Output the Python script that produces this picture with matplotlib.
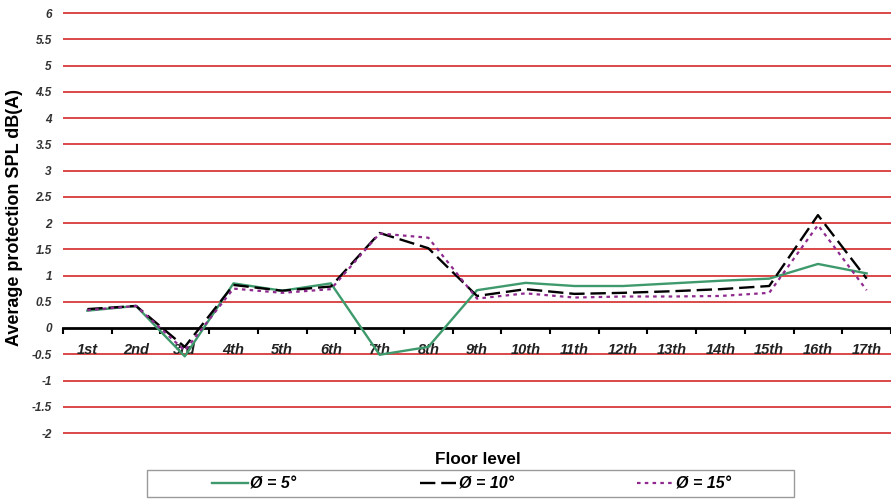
import matplotlib
matplotlib.use('Agg')
import matplotlib.pyplot as plt
from matplotlib.patches import Rectangle
import numpy as np

plt.rcParams['font.family'] = ['Liberation Sans', 'DejaVu Sans']

# values
floors = ['1st', '2nd', '3rd', '4th', '5th', '6th', '7th', '8th', '9th',
          '10th', '11th', '12th', '13th', '14th', '15th', '16th', '17th']
phi5 = [0.33, 0.42, -0.54, 0.85, 0.71, 0.85, -0.51, -0.36, 0.72,
        0.86, 0.80, 0.80, 0.85, 0.90, 0.94, 1.22, 1.04]
phi10 = [0.36, 0.42, -0.36, 0.82, 0.71, 0.79, 1.81, 1.52, 0.61,
         0.74, 0.65, 0.67, 0.70, 0.74, 0.80, 2.15, 0.94]
phi15 = [0.34, 0.42, -0.43, 0.75, 0.67, 0.74, 1.80, 1.72, 0.56,
         0.66, 0.58, 0.60, 0.60, 0.61, 0.67, 1.96, 0.72]
yticks = np.arange(-2, 6.01, 0.5)

W, H = 891, 499
fig = plt.figure(figsize=(W / 100, H / 100), dpi=100)
# axes box in pixel terms: y=6 at 13px, y=-2 at 433px, x from 63px to right edge
ymin, ymax = -2.03, 6.03
ppu = (433 - 13) / 8.0
top_px = 13 - (ymax - 6) * ppu
bot_px = 433 + (-2 - ymin) * ppu
ax = fig.add_axes([63 / W, 1 - bot_px / H, 1 - 63 / W, (bot_px - top_px) / H])

x = np.arange(1, len(floors) + 1)

# red horizontal grid
for yv in yticks:
    if yv == 0:
        continue
    ax.axhline(yv, color='#d83a3a', lw=1.3, zorder=1)

ax.plot(x, phi5, color='#3e9a6c', lw=1.7, zorder=3, label='Ø = 5°')
ax.plot(x, phi10, color='black', lw=1.7, dashes=(6.5, 2.5), zorder=4,
        label='Ø = 10°')
ax.plot(x, phi15, color='#8e2a8e', lw=1.6, dashes=(1.6, 1.9), zorder=5,
        label='Ø = 15°')

ax.set_xlim(0.5, len(floors) + 0.5)
ax.set_ylim(ymin, ymax)

for s in ['top', 'right', 'left']:
    ax.spines[s].set_visible(False)
ax.spines['bottom'].set_position(('data', 0))
ax.spines['bottom'].set_linewidth(2.0)
ax.spines['bottom'].set_zorder(2)

ax.set_xticks(x)
ax.set_xticklabels(floors, fontsize=10.5, fontweight='bold', style='italic',
                   color='#222222')
ax.set_xticks(np.arange(0.5, len(floors) + 1, 1.0), minor=True)
ax.tick_params(axis='x', which='major', length=0, pad=11)
ax.tick_params(axis='x', which='minor', length=4, width=1.5, direction='out')

ax.set_yticks(yticks)
ax.set_yticklabels([f'{v:g}' for v in yticks], fontsize=8.5,
                   fontweight='bold', style='italic', color='#333333')
ax.tick_params(axis='y', length=0, pad=8)

fig.text(15 / W, 1 - 218 / H, 'Average protection SPL dB(A)', rotation=90,
         ha='center', va='center', fontsize=13, fontweight='bold')
fig.text(478 / W, 1 - 459 / H, 'Floor level', ha='center', va='center',
         fontsize=12.3, fontweight='bold')

# legend box
fig.patches.append(Rectangle((147 / W, 1 - 497 / H), 647 / W, 27 / H,
                             transform=fig.transFigure, fill=False,
                             edgecolor='#9a9a9a', lw=1.0))
leg = ax.legend(loc='center left', bbox_to_anchor=(204 / W, 1 - 484 / H),
                bbox_transform=fig.transFigure, ncol=3, frameon=False,
                borderpad=0, handlelength=2.25, handletextpad=0.15,
                columnspacing=7.75,
                prop={'size': 11.5, 'weight': 'bold', 'style': 'italic'})

fig.savefig('out.png', dpi=100)
